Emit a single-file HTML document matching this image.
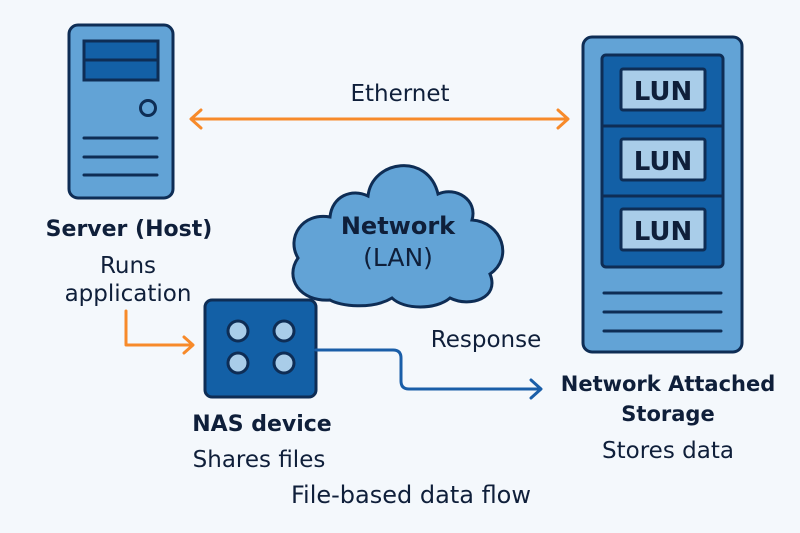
<!DOCTYPE html>
<html><head><meta charset="utf-8"><style>
html,body{margin:0;padding:0;background:#f4f8fc;}
svg{display:block}
text{font-family:"DejaVu Sans","Liberation Sans",sans-serif;fill:#0f1f3a}
</style></head><body>
<svg width="800" height="533" viewBox="0 0 800 533" xmlns="http://www.w3.org/2000/svg">
<rect width="800" height="533" fill="#f4f8fc"/>
<!-- Server -->
<rect x="69" y="25" width="104" height="173" rx="9" fill="#62a3d6" stroke="#0e2d55" stroke-width="3"/>
<rect x="84" y="41" width="74" height="39" fill="#1360a6" stroke="#0e2d55" stroke-width="3"/>
<line x1="84" y1="60" x2="158" y2="60" stroke="#0e2d55" stroke-width="3"/>
<circle cx="148" cy="108" r="7.5" fill="#62a3d6" stroke="#0e2d55" stroke-width="3"/>
<g stroke="#0e2d55" stroke-width="3" stroke-linecap="round">
<line x1="84" y1="138" x2="157" y2="138"/><line x1="84" y1="157" x2="157" y2="157"/><line x1="84" y1="175" x2="157" y2="175"/>
</g>
<!-- Ethernet arrow -->
<g stroke="#f78a2a" stroke-width="3" fill="none" stroke-linecap="round" stroke-linejoin="round">
<line x1="192" y1="119" x2="567" y2="119"/>
<polyline points="201,110 191,119 201,128"/>
<polyline points="558,110 568,119 558,128"/>
<polyline points="126,311 126,345 192,345"/>
<polyline points="184,337 193,345 184,353"/>
</g>
<text x="400" y="101" font-size="23" text-anchor="middle">Ethernet</text>
<!-- Storage -->
<rect x="583" y="37" width="159" height="315" rx="9" fill="#62a3d6" stroke="#0e2d55" stroke-width="3"/>
<rect x="602" y="55" width="121" height="212" rx="4" fill="#1360a6" stroke="#0e2d55" stroke-width="3"/>
<line x1="602" y1="126" x2="723" y2="126" stroke="#0e2d55" stroke-width="3"/>
<line x1="602" y1="196" x2="723" y2="196" stroke="#0e2d55" stroke-width="3"/>
<g fill="#a9cde9" stroke="#0e2d55" stroke-width="3">
<rect x="621" y="69" width="84" height="41" rx="2"/>
<rect x="621" y="139" width="84" height="41" rx="2"/>
<rect x="621" y="209" width="84" height="41" rx="2"/>
</g>
<g font-size="26" text-anchor="middle" font-weight="bold" fill="#0e2d55"><text x="663" y="100">LUN</text><text x="663" y="170">LUN</text><text x="663" y="240">LUN</text></g>
<g stroke="#0e2d55" stroke-width="3" stroke-linecap="round">
<line x1="604" y1="293" x2="721" y2="293"/><line x1="604" y1="312" x2="721" y2="312"/><line x1="604" y1="331" x2="721" y2="331"/>
</g>
<!-- Cloud -->
<path d="M330,300 C300,302 284,278 298,258 C286,238 302,212 330,217 C332,196 352,188 368,196 C372,160 428,152 438,194 C456,186 478,200 472,220 C502,222 514,258 490,274 C500,298 470,308 450,298 C436,310 404,310 392,298 C372,310 340,306 330,300 Z" fill="#62a3d6" stroke="#0e2d55" stroke-width="3"/>
<text x="398" y="234" font-size="24" font-weight="bold" text-anchor="middle" fill="#0e2d55">Network</text>
<text x="398" y="266" font-size="25" text-anchor="middle" fill="#0e2d55">(LAN)</text>
<!-- NAS -->
<rect x="205" y="300" width="111" height="97" rx="7" fill="#1360a6" stroke="#0e2d55" stroke-width="3"/>
<g fill="#a9cde9" stroke="#0e2d55" stroke-width="3">
<circle cx="238" cy="331" r="10"/><circle cx="284" cy="331" r="10"/><circle cx="238" cy="363" r="10"/><circle cx="284" cy="363" r="10"/>
</g>
<g stroke="#1a5ea8" stroke-width="3" fill="none" stroke-linecap="round" stroke-linejoin="round">
<path d="M316,350 L393,350 Q401,350 401,358 L401,381 Q401,389 409,389 L540,389"/>
<polyline points="531,380 541,389 531,398"/>
</g>
<!-- Texts -->
<text x="129" y="236" font-size="22" font-weight="bold" text-anchor="middle">Server (Host)</text>
<text x="128" y="273" font-size="23" text-anchor="middle">Runs</text>
<text x="128" y="301" font-size="23" text-anchor="middle">application</text>
<text x="486" y="347" font-size="23" text-anchor="middle">Response</text>
<text x="668" y="391" font-size="21" font-weight="bold" text-anchor="middle">Network Attached</text>
<text x="668" y="421" font-size="21" font-weight="bold" text-anchor="middle">Storage</text>
<text x="668" y="458" font-size="23" text-anchor="middle">Stores data</text>
<text x="262" y="431" font-size="22" font-weight="bold" text-anchor="middle">NAS device</text>
<text x="259" y="467" font-size="23" text-anchor="middle">Shares files</text>
<text x="411" y="503" font-size="24" text-anchor="middle">File-based data flow</text>
</svg>
</body></html>
